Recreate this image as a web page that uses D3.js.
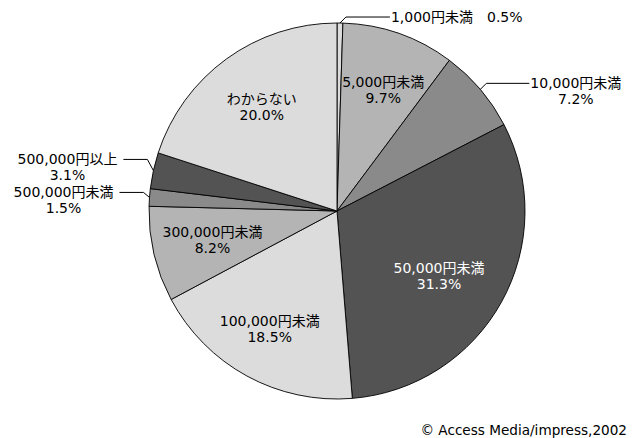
<!DOCTYPE html>
<html>
<head>
<meta charset="utf-8">
<script src="https://cdn.jsdelivr.net/npm/d3@7"></script>
<style>
  html, body { margin: 0; padding: 0; background: #fff; }
  svg { display: block; }
  text { font-family: "DejaVu Sans", "Noto Sans CJK JP", sans-serif; }
</style>
</head>
<body>
<svg id="chart" width="640" height="438"></svg>
<script>
// Spending categories, clockwise from 12 o'clock
const categories = [
  "1,000円未満", "5,000円未満", "10,000円未満", "50,000円未満",
  "100,000円未満", "300,000円未満", "500,000円未満", "500,000円以上", "わからない"
];
const shares = [0.5, 9.7, 7.2, 31.3, 18.5, 8.2, 1.5, 3.1, 20.0];
const fills = ["#dcdcdc", "#b4b4b4", "#8a8a8a", "#535353"];
// where each label sits: inside the slice, or outside on a leader line
const placement = ["outRightInline", "in", "outRight", "in", "in", "in", "outLeft", "outLeft", "in"];
const credit = "© Access Media/impress,2002";

const svg = d3.select("#chart");
const cx = 337, cy = 211, R = 188;
const g = svg.append("g").attr("transform", `translate(${cx},${cy})`);

const pie = d3.pie().value(d => d).sort(null);
const arcs = pie(shares);
const arc = d3.arc().innerRadius(0).outerRadius(R);

g.selectAll("path.slice")
  .data(arcs)
  .join("path")
  .attr("class", "slice")
  .attr("d", arc)
  .attr("fill", (d, i) => fills[i % fills.length])
  .attr("stroke", "#000")
  .attr("stroke-width", 0.9)
  .attr("stroke-linejoin", "round");

const fs = 14, lh = 16;
const pct = v => v.toFixed(1) + "%";
const labelArc = d3.arc().innerRadius(128).outerRadius(128);
const nudge = { 1: [4, 0], 3: [-10, 3], 4: [-6, 6] };

let prevLeftY = null;
arcs.forEach((d, i) => {
  const mode = placement[i];
  if (mode === "in") {
    const [x0, y0] = labelArc.centroid(d);
    const [nx, ny] = nudge[i] || [0, 0];
    const x = x0 + nx, y = y0 + ny;
    const col = i === 3 ? "#fff" : "#000";
    const t = g.append("text")
      .attr("text-anchor", "middle")
      .attr("font-size", fs)
      .attr("fill", col);
    t.append("tspan").attr("x", x).attr("y", y - lh / 2 + 5).text(categories[i]);
    t.append("tspan").attr("x", x).attr("y", y + lh / 2 + 5).text(pct(shares[i]));
    return;
  }
  const mid = (d.startAngle + d.endAngle) / 2;
  const ex = Math.sin(mid) * R, ey = -Math.cos(mid) * R;
  const side = mode === "outLeft" ? -1 : 1;
  let ky = mode === "outLeft" ? ey - 5 : ey - 6;
  // stacked left-hand labels keep a full two-line gap between them
  if (mode === "outLeft") {
    if (prevLeftY !== null) ky = Math.min(ky, prevLeftY - 33);
    prevLeftY = ky;
  }
  const kx = ex + side * 6;
  const hx = mode === "outRightInline" ? kx + 44 : (mode === "outRight" ? kx + 43 : kx - 24);
  g.append("path")
    .attr("d", d3.line()([[ex, ey], [kx, ky], [hx, ky]]))
    .attr("fill", "none")
    .attr("stroke", "#000")
    .attr("stroke-width", 1);

  if (mode === "outRightInline") {
    g.append("text")
      .attr("x", hx + 1).attr("y", ky + 5)
      .attr("font-size", fs)
      .text(categories[i] + "\u3000" + pct(shares[i]));
    return;
  }
  const t1 = g.append("text")
    .attr("font-size", fs)
    .attr("y", ky + 5)
    .text(categories[i]);
  const w = t1.node().getComputedTextLength();
  const left = side > 0 ? hx + 1 : hx - 6 - w;
  t1.attr("x", left);
  g.append("text")
    .attr("font-size", fs)
    .attr("text-anchor", "middle")
    .attr("x", left + w / 2)
    .attr("y", ky + 5 + lh)
    .text(pct(shares[i]));
});

svg.append("text")
  .attr("x", 627).attr("y", 435)
  .attr("text-anchor", "end")
  .attr("font-size", 13.6)
  .text(credit);
</script>
</body>
</html>
